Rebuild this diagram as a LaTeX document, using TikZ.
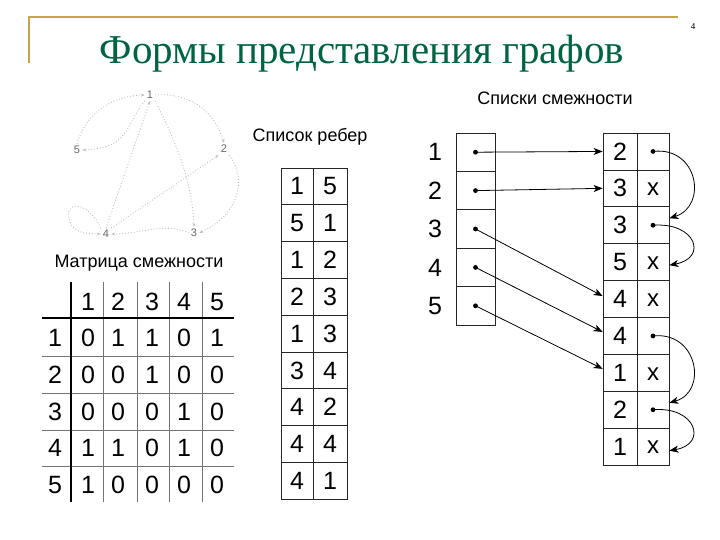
\documentclass[tikz,border=0pt]{standalone}
\usepackage{fontspec}
\setmainfont{Liberation Sans}
\newfontfamily\titlefont{Liberation Serif}
\usetikzlibrary{arrows.meta}
\definecolor{titlegreen}{RGB}{0,100,66}
\definecolor{rulegold}{RGB}{196,166,70}
\begin{document}
\begin{tikzpicture}[x=1pt,y=-1pt,
  dig/.style={font=\fontsize{25}{25}\selectfont, inner sep=0pt, anchor=center},
  lbl/.style={font=\fontsize{18}{18}\selectfont, inner sep=0pt, anchor=center},
  cellbox/.style={draw=black!85, line width=0.7pt, inner sep=0pt, font=\fontsize{25}{25}\selectfont},
  gnode/.style={font=\fontsize{11}{11}\selectfont, text=black!60, inner sep=2pt},
  gedge/.style={draw=black!25, dotted, line width=0.9pt, -{Stealth[length=4pt,width=3pt]}},
  ptr/.style={draw=black, line width=0.8pt, -{Stealth[length=9pt,width=7pt,inset=2.5pt]}},
  thickrule/.style={line width=2.4pt, black},
  thinrule/.style={line width=0.8pt, black!55}]
\useasboundingbox (0,0) rectangle (720,540);

% header
\draw[rulegold, line width=2.2pt] (29,63) -- (29,17) -- (678,17);
\node[font=\titlefont\fontsize{9}{9}\selectfont, inner sep=0pt] (pg) at (693,27) {4};
\node[font=\titlefont\fontsize{41}{41}\selectfont, text=titlegreen, anchor=base, inner sep=0pt] (title) at (362,64) {Формы представления графов};

% labels
\node[lbl] (tadj) at (555,98) {Списки смежности};
\node[lbl] (tedge) at (310,137) {Список ребер};
\node[lbl] (tmat) at (139,263) {Матрица смежности};

% graph
\node[gnode] (g1) at (150,95) {1};
\node[gnode] (g5) at (77,150) {5};
\node[gnode] (g2) at (224,149) {2};
\node[gnode] (g4) at (106,234) {4};
\node[gnode] (g3) at (194,233) {3};
\draw[gedge] (g5.north) .. controls (85,115) and (110,96) .. (g1.west);
\draw[gedge] (g1.south west) .. controls (125,125) and (130,148) .. (g5.east);
\draw[gedge] (g1.east) .. controls (190,92) and (215,112) .. (g2.north);
\draw[gedge] (g2.south east) .. controls (248,180) and (238,215) .. (g3.east);
\draw[gedge] (g1.south east) .. controls (175,140) and (192,180) .. (g3.north);
\draw[gedge] (g4.north east) -- (g2.south west);
\draw[gedge] (g3.west) .. controls (165,222) and (140,234) .. (g4.east);
\draw[gedge] (g4.north) -- (g1.south);
\draw[gedge] (g4.north west) .. controls (88,200) and (62,200) .. (70,222) .. controls (74,232) and (84,234) .. (g4.west);

% edge list
\foreach \a/\b [count=\i] in {1/5,5/1,1/2,2/3,1/3,3/4,4/2,4/4,4/1}{
  \node[cellbox, minimum width=32pt, minimum height=36.8pt] (ea\i) at (297,{168+36.8*(\i-0.5)}) {\a};
  \node[cellbox, minimum width=34pt, minimum height=36.8pt] (eb\i) at (330,{168+36.8*(\i-0.5)}) {\b};
}

% adjacency: head array
\foreach \i in {1,...,5}{
  \node[dig] (hl\i) at (435,{133+38.4*(\i-0.5)}) {\i};
  \node[cellbox, minimum width=39pt, minimum height=38.4pt] (H\i) at (475.5,{133+38.4*(\i-0.5)}) {};
  \fill (H\i.center) circle (2.4pt);
}
% adjacency: list cells
\foreach \v [count=\i] in {2,3,3,5,4,4,1,2,1}{
  \node[cellbox, minimum width=34pt, minimum height=36.9pt] (Ra\i) at (620,{133+36.9*(\i-0.5)}) {\v};
  \node[cellbox, minimum width=32pt, minimum height=36.9pt] (Rb\i) at (653,{133+36.9*(\i-0.5)}) {};
}
\foreach \i in {2,4,5,7,9}{ \node[dig, font=\fontsize{24}{24}\selectfont] (xm\i) at ([yshift=-1pt]Rb\i.center) {x}; }
\foreach \i in {1,3,6,8}{ \fill (Rb\i.center) circle (2.4pt); }

\draw[ptr] (H1.center) -- (Ra1.west);
\draw[ptr] (H2.center) -- (Ra2.west);
\draw[ptr] (H3.center) -- ([yshift=3pt]Ra5.west);
\draw[ptr] (H4.center) -- ([yshift=4pt]Ra6.west);
\draw[ptr] (H5.center) -- ([yshift=4pt]Ra7.west);

\draw[ptr] (Rb1.center) .. controls (698,146) and (708,206) .. ([yshift=7pt]Rb3.east);
\draw[ptr] (Rb3.center) .. controls (696,222) and (708,258) .. ([yshift=-3pt]Rb4.east);
\draw[ptr] (Rb6.center) .. controls (698,331) and (708,392) .. ([yshift=7pt]Rb8.east);
\draw[ptr] (Rb8.center) .. controls (696,406) and (708,444) .. ([yshift=-4pt]Rb9.east);

% adjacency matrix
\draw[thinrule] (103,282) -- (103,502) (137,282) -- (137,502) (169,282) -- (169,502) (202,282) -- (202,502);
\draw[thinrule] (42,356) -- (234,356) (42,393) -- (234,393) (42,430) -- (234,430) (42,466) -- (234,466);
\draw[thickrule] (71,282) -- (71,502);
\draw[thickrule] (42,318) -- (234,318);
\foreach \c [count=\j] in {88,118,152,184,217}{
  \node[dig] (mh\j) at (\c,302) {\j};
}
\foreach \r [count=\i] in {338,375,412,448,485}{
  \node[dig] (mr\i) at (55,\r) {\i};
}
\foreach \row [count=\i] in {{0,1,1,0,1},{0,0,1,0,0},{0,0,0,1,0},{1,1,0,1,0},{1,0,0,0,0}}{
  \foreach \val [count=\j] in \row {
    \pgfmathsetmacro{\cx}{{88,118,152,184,217}[\j-1]}
    \pgfmathsetmacro{\ry}{{338,375,412,448,485}[\i-1]}
    \node[dig] (m\i-\j) at (\cx,\ry) {\val};
  }
}
\end{tikzpicture}
\end{document}
